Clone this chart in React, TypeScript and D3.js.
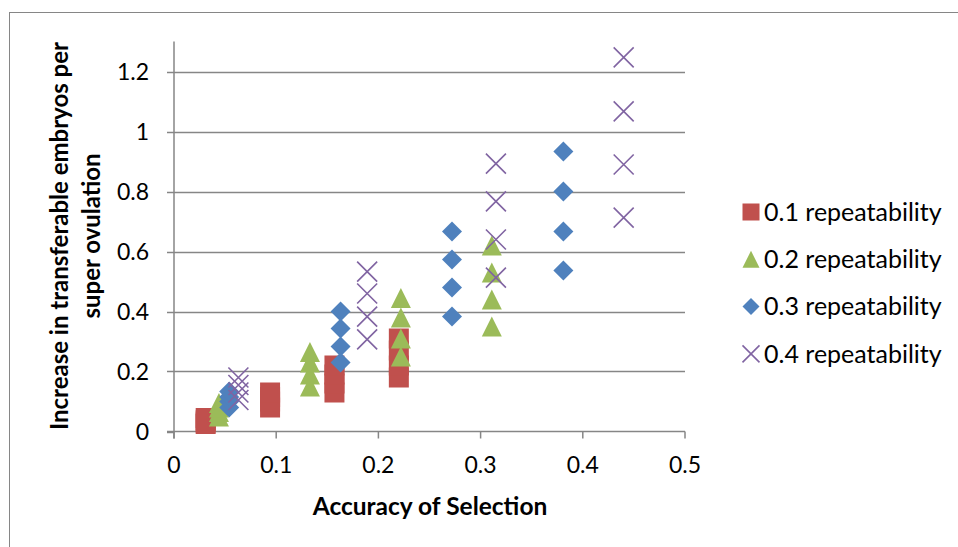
import React from 'react';
import * as d3 from 'd3';

// accuracy of selection (x) for each group of points, and the four responses per group
const rep01X = [0.031, 0.094, 0.157, 0.22];
const rep01Y = [[0.025, 0.03, 0.037, 0.045], [0.08, 0.1, 0.115, 0.13], [0.13, 0.16, 0.19, 0.22], [0.18, 0.22, 0.27, 0.31]];
const rep02X = [0.044, 0.133, 0.222, 0.311];
const rep02Y = [[0.05, 0.065, 0.08, 0.095], [0.15, 0.19, 0.23, 0.265], [0.25, 0.31, 0.38, 0.445], [0.35, 0.44, 0.53, 0.62]];
const rep03X = [0.054, 0.163, 0.272, 0.381];
const rep03Y = [[0.08, 0.1, 0.115, 0.133], [0.23, 0.283, 0.343, 0.4], [0.383, 0.48, 0.573, 0.667], [0.537, 0.667, 0.8, 0.933]];
const rep04X = [0.063, 0.189, 0.315, 0.44];
const rep04Y = [[0.105, 0.13, 0.155, 0.18], [0.307, 0.383, 0.46, 0.533], [0.513, 0.64, 0.767, 0.893], [0.713, 0.89, 1.067, 1.247]];

const seriesNames = ['0.1 repeatability', '0.2 repeatability', '0.3 repeatability', '0.4 repeatability'];
const xTicks = [0, 0.1, 0.2, 0.3, 0.4, 0.5];
const yTicks = [0, 0.2, 0.4, 0.6, 0.8, 1, 1.2];

const colors = ['#C0504D', '#9BBB59', '#4F81BD', '#8064A2'];
const shapes = ['square', 'triangle', 'diamond', 'cross'];
const font = 'Lato, Carlito, Calibri, sans-serif';
const grid = '#868686';

const Marker = ({ shape, color, x, y, s }) => {
  const h = s / 2;
  if (shape === 'square') return <rect x={x - h} y={y - h} width={s} height={s} fill={color} />;
  if (shape === 'triangle')
    return <path d={`M${x},${y - h}L${x + h},${y + h}L${x - h},${y + h}Z`} fill={color} />;
  if (shape === 'diamond')
    return <path d={`M${x},${y - h}L${x + h},${y}L${x},${y + h}L${x - h},${y}Z`} fill={color} />;
  return (
    <path d={`M${x - h},${y - h}L${x + h},${y + h}M${x + h},${y - h}L${x - h},${y + h}`}
      stroke={color} strokeWidth={1.6} fill="none" />
  );
};

export default function App() {
  const width = 958;
  const height = 547;
  const x = d3.scaleLinear().domain([0, 0.5]).range([174, 685]);
  const y = d3.scaleLinear().domain([0, 1.3]).range([431.5, 41.5]);

  const groups = [[rep01X, rep01Y], [rep02X, rep02Y], [rep03X, rep03Y], [rep04X, rep04Y]];
  const series = groups.map(([xs, ys]) => xs.flatMap((xv, i) => ys[i].map(v => [xv, v])));

  return (
    <svg width={width} height={height} style={{ position: 'absolute', left: 0, top: 0 }}>
      <rect x={0} y={0} width={width} height={height} fill="#fff" />
      <rect x={9.5} y={12.5} width={width} height={height} fill="none" stroke={grid} strokeWidth={1} />

      {yTicks.filter(t => t > 0).map(t => (
        <line key={t} x1={x(0)} x2={x(0.5)} y1={Math.round(y(t)) + 0.5} y2={Math.round(y(t)) + 0.5}
          stroke={grid} strokeWidth={1.5} />
      ))}
      <line x1={x(0) - 7} x2={x(0.5)} y1={y(0)} y2={y(0)} stroke={grid} strokeWidth={1.5} />
      <line x1={x(0)} x2={x(0)} y1={y(1.3)} y2={y(0) + 7} stroke={grid} strokeWidth={1.5} />
      {yTicks.map(t => (
        <line key={t} x1={x(0) - 7} x2={x(0)} y1={Math.round(y(t)) + 0.5} y2={Math.round(y(t)) + 0.5}
          stroke={grid} strokeWidth={1.5} />
      ))}
      {xTicks.map(t => (
        <line key={t} x1={x(t)} x2={x(t)} y1={y(0)} y2={y(0) + 7} stroke={grid} strokeWidth={1.5} />
      ))}

      {yTicks.map(t => (
        <text key={t} x={149} y={y(t)} dy="0.35em" textAnchor="end" fontFamily={font} fontSize={23} fill="#000">
          {String(t)}
        </text>
      ))}
      {xTicks.map(t => (
        <text key={t} x={x(t)} y={465} dy="0.35em" textAnchor="middle" fontFamily={font} fontSize={23} fill="#000">
          {String(t)}
        </text>
      ))}

      <text x={430} y={515} textAnchor="middle" fontFamily={font} fontSize={24.5} fontWeight="bold">
        Accuracy of Selection
      </text>
      <g transform="translate(68,236) rotate(-90)">
        <text x={0} y={0} textAnchor="middle" fontFamily={font} fontSize={24} fontWeight="bold">
          Increase in transferable embryos per
        </text>
        <text x={0} y={32} textAnchor="middle" fontFamily={font} fontSize={24} fontWeight="bold">
          super ovulation
        </text>
      </g>

      {series.map((pts, si) => (
        <g key={si}>
          {pts.map(([xv, yv], i) => (
            <Marker key={i} shape={shapes[si]} color={colors[si]} x={x(xv)} y={y(yv)} s={20} />
          ))}
        </g>
      ))}

      {seriesNames.map((name, i) => {
        const ly = 212 + i * 47.3;
        return (
          <g key={name}>
            <Marker shape={shapes[i]} color={colors[i]} x={751} y={ly} s={17} />
            <text x={764} y={ly} dy="0.35em" fontFamily={font} fontSize={25} fill="#000">{name}</text>
          </g>
        );
      })}
    </svg>
  );
}
